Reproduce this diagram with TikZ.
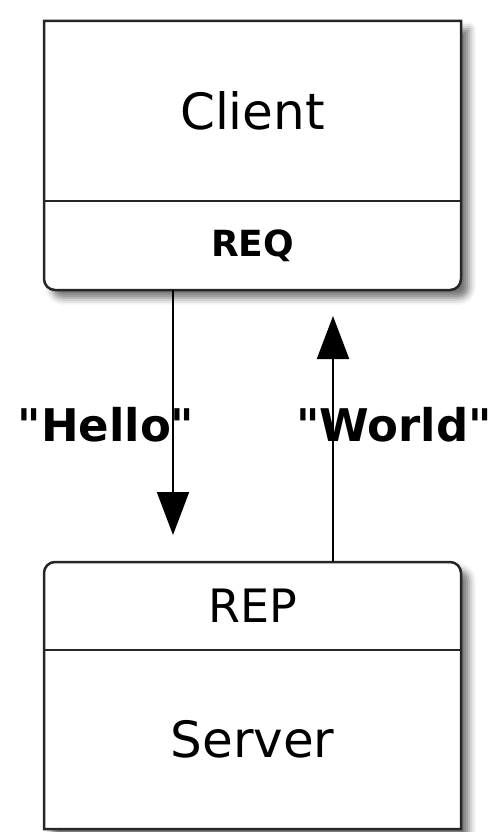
\documentclass[tikz,border=0pt]{standalone}
\usepackage{fontspec}
\setmainfont{DejaVu Sans}[Ligatures=TeXOff]
\usetikzlibrary{positioning,arrows.meta,backgrounds,shadows.blur}

\tikzset{
  part/.style={minimum width=417pt, inner sep=0pt, outer sep=0pt, font=\fontsize{50}{56}\selectfont},
  socket/.style={part, font=\fontsize{46}{50}\selectfont},
  outline/.style={draw=black!85, line width=2.5pt, fill=white,
    blur shadow={shadow xshift=8pt, shadow yshift=-8pt, shadow blur radius=7pt, shadow opacity=55}},
  divider/.style={draw=black!85, line width=2pt},
  msg/.style={draw=black, line width=2pt, -{Triangle[width=32pt,length=43pt]}},
  word/.style={font=\bfseries\fontsize{45}{50}\selectfont},
}

\begin{document}
\begin{tikzpicture}[x=1pt,y=-1pt]
\useasboundingbox (0,0) rectangle (497,832);

\node[part, minimum height=180pt] (client) at (252.5,111) {Client};
\node[socket, minimum height=89pt, below=0pt of client, font=\bfseries\fontsize{36}{40}\selectfont] (req) {REQ};

\node[part, minimum height=179pt] (server) at (252.5,739.5) {Server};
\node[socket, minimum height=88pt, above=0pt of server] (rep) {REP};

\begin{scope}[on background layer]
\draw[outline] (client.north west) [rounded corners=11pt] -- (req.south west) -- (req.south east) [sharp corners] -- (client.north east) -- cycle;
\draw[outline] (server.south west) [rounded corners=11pt] -- (rep.north west) -- (rep.north east) [sharp corners] -- (server.south east) -- cycle;
\end{scope}
\draw[divider] (client.south west) -- (client.south east);
\draw[divider] (rep.south west) -- (rep.south east);

% messages
\node[word] (hello) at (106,425) {"Hello"};
\node[word] (world) at (394,425) {"World"};
\draw[msg] ([xshift=-79.5pt]req.south) -- ([xshift=-79.5pt,yshift=27pt]rep.north);
\draw[msg] ([xshift=80.5pt]rep.north) -- ([xshift=80.5pt,yshift=-26pt]req.south);

\end{tikzpicture}
\end{document}
